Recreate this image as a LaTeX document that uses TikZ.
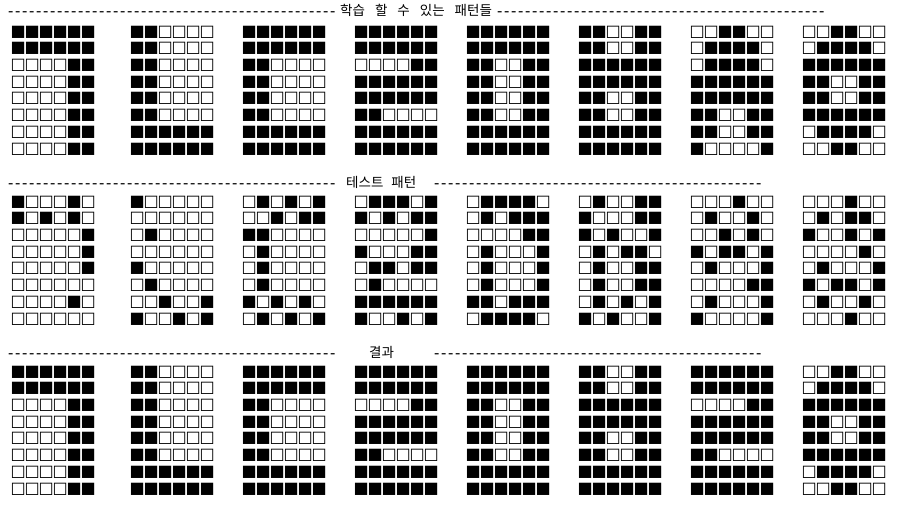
\documentclass[tikz,border=0pt]{standalone}
\usepackage{fontspec}
\newfontfamily\krfont{Noto Sans CJK KR}
\newfontfamily\sqfont{DejaVu Sans}
\newfontfamily\dashfont{DejaVu Sans Mono}
\usetikzlibrary{positioning}
\tikzset{
  sqrow/.style={anchor=west, inner sep=0pt, font=\sqfont\fontsize{16}{16}\selectfont},
  dsh/.style={anchor=base west, inner sep=0pt, font=\dashfont\fontsize{15.5}{16}\selectfont},
  ttl/.style={anchor=base west, inner sep=0pt, font=\krfont\fontsize{13.5}{14}\selectfont},
}
% one row of a pattern: 1 = black, 0 = white
\newcommand\bits[1]{\edef\bitstmp{#1}\expandafter\bitsloop\bitstmp\relax}
\def\bitsloop#1{\ifx#1\relax\else\makebox[14pt]{\ifnum#1=1 ■\else □\fi}\expandafter\bitsloop\fi}
\newcommand\dashes{\foreach\i in {1,...,47}{\makebox[7pt]{-}}}
% patterns, 8 rows of 6 cells each
\def\patstrain{%
  {111111,111111,000011,000011,000011,000011,000011,000011},
  {110000,110000,110000,110000,110000,110000,111111,111111},
  {111111,111111,110000,110000,110000,110000,111111,111111},
  {111111,111111,000011,111111,111111,110000,111111,111111},
  {111111,111111,110011,110011,110011,110011,111111,111111},
  {110011,110011,111111,111111,110011,110011,111111,111111},
  {001100,011110,011110,111111,111111,110011,110011,100001},
  {001100,011110,111111,110011,110011,111111,011110,001100}}
\def\patstest{%
  {100010,101010,000001,000001,000001,000000,000010,000000},
  {100000,000000,010000,000000,100000,010000,001001,100101},
  {010101,001011,110000,010000,010000,010000,101010,010101},
  {011101,101011,000001,100011,011011,010000,111111,100101},
  {011110,010111,000011,010001,010001,010001,110111,011110},
  {010011,100011,101001,010110,010011,010011,010101,101001},
  {000100,010010,001010,101101,010001,000011,010001,100001},
  {000100,010110,100101,000010,010001,101101,010010,000100}}
\def\patsresult{%
  {111111,111111,000011,000011,000011,000011,000011,000011},
  {110000,110000,110000,110000,110000,110000,111111,111111},
  {111111,111111,110000,110000,110000,110000,111111,111111},
  {111111,111111,000011,111111,111111,110000,111111,111111},
  {111111,111111,110011,110011,110011,110011,111111,111111},
  {110011,110011,111111,111111,110011,110011,111111,111111},
  {111111,111111,000011,111111,111111,110000,111111,111111},
  {001100,011110,111111,110011,110011,111111,011110,001100}}

\begin{document}
\begin{tikzpicture}[x=1pt, y=-1pt]
  \useasboundingbox (0,0) rectangle (917,510);
  % headers
  \node[dsh] (h1l) at (7,17) {\dashes};
  \node[ttl] (h1t) at (340,16) {\spaceskip=10pt\relax 학습 할 수 있는 패턴들};
  \node[dsh] (h1r) at (496,17) {\dashes};
  \node[dsh] (h2l) at (7,189) {\dashes};
  \node[ttl] (h2t) at (346,188) {\spaceskip=8pt\relax 테스트 패턴};
  \node[dsh] (h2r) at (433,189) {\dashes};
  \node[dsh] (h3l) at (7,358) {\dashes};
  \node[ttl] (h3t) at (369,357) {결과};
  \node[dsh] (h3r) at (433,358) {\dashes};
  % pattern grids
  \foreach \sec/\yy in {train/32, test/202, result/372}{
    \expandafter\let\expandafter\data\csname pats\sec\endcsname
    \foreach \pat [count=\p] in \data{
      \pgfmathsetmacro\px{\p==1 ? 11 : 18+112*(\p-1)}
      \foreach \row [count=\r] in \pat
        \node[sqrow] (\sec-\p-\r) at (\px,\yy+16.7*\r-16.7) {\bits{\row}};
    }
  }
\end{tikzpicture}
\end{document}
